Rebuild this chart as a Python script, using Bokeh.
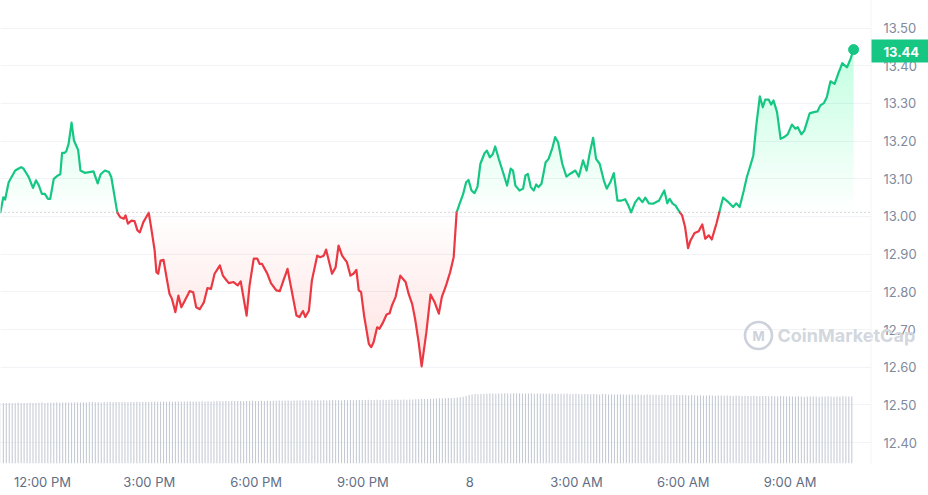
import numpy as np
from bokeh.plotting import figure
from bokeh.models import (Range1d, LinearAxis, FixedTicker, NumeralTickFormatter,
                          Span, Grid)
from bokeh.core.properties import value
from bokeh.embed import file_html
from bokeh.resources import INLINE

# ---------------- data ----------------
START_HOUR = 10 + 49 / 60          # first sample: 10:49 AM (Jan 7)

MINUTES = [0, 5, 8, 14, 25, 35, 39, 48, 55, 60, 65, 70, 75, 80, 84, 90, 97, 101, 104, 108,
           111, 115, 120, 124, 131, 135, 142, 150, 157, 164, 169, 176, 183, 187, 197, 202, 208, 211, 215, 221,
           226, 231, 235, 241, 250, 254, 260, 263, 266, 270, 275, 280, 285, 289, 295, 300, 305, 311, 319, 325,
           330, 336, 343, 349, 355, 361, 370, 375, 385, 393, 400, 405, 415, 420, 427, 433, 437, 441, 450, 456,
           465, 471, 477, 484, 492, 499, 504, 510, 514, 520, 525, 534, 539, 545, 549, 559, 565, 570, 576, 584,
           590, 595, 600, 604, 608, 613, 621, 625, 629, 635, 639, 645, 651, 656, 660, 666, 674, 683, 688, 694,
           699, 705, 710, 718, 725, 732, 739, 744, 752, 758, 764, 769, 774, 780, 785, 789, 794, 799, 804, 809,
           816, 820, 825, 830, 834, 840, 848, 854, 860, 864, 868, 875, 881, 885, 889, 894, 899, 903, 907, 912,
           919, 924, 930, 935, 940, 947, 954, 960, 969, 975, 982, 988, 993, 999, 1004, 1010, 1017, 1022, 1028, 1034,
           1040, 1046, 1053, 1059, 1063, 1070, 1076, 1082, 1087, 1093, 1100, 1110, 1119, 1124, 1128, 1133, 1138, 1143, 1149, 1154,
           1159, 1163, 1170, 1177, 1183, 1188, 1194, 1199, 1207, 1212, 1218, 1227, 1235, 1240, 1246, 1253, 1258, 1264, 1269, 1274,
           1280, 1285, 1289, 1295, 1299, 1303, 1309, 1315, 1321, 1327, 1334, 1340, 1344, 1350, 1355, 1364, 1371, 1377, 1382, 1388,
           1393, 1399, 1406, 1413, 1419, 1427, 1433, 1438]

PRICE = [13.011, 13.051, 13.045, 13.091, 13.122, 13.131, 13.127, 13.104, 13.076, 13.096,
         13.082, 13.060, 13.060, 13.047, 13.047, 13.100, 13.109, 13.112, 13.169, 13.169,
         13.173, 13.193, 13.249, 13.202, 13.177, 13.122, 13.116, 13.118, 13.120, 13.088,
         13.112, 13.122, 13.118, 13.104, 13.011, 12.998, 12.994, 13.003, 12.981, 12.989,
         12.988, 12.963, 12.958, 12.985, 13.010, 12.972, 12.910, 12.852, 12.848, 12.883,
         12.885, 12.839, 12.795, 12.782, 12.746, 12.790, 12.759, 12.777, 12.802, 12.799,
         12.759, 12.754, 12.772, 12.810, 12.808, 12.848, 12.870, 12.843, 12.823, 12.826,
         12.817, 12.828, 12.737, 12.817, 12.888, 12.888, 12.874, 12.874, 12.848, 12.823,
         12.804, 12.802, 12.830, 12.861, 12.795, 12.737, 12.733, 12.749, 12.733, 12.750,
         12.830, 12.896, 12.892, 12.896, 12.912, 12.848, 12.865, 12.923, 12.896, 12.879,
         12.843, 12.848, 12.858, 12.804, 12.799, 12.737, 12.662, 12.653, 12.666, 12.706,
         12.702, 12.719, 12.740, 12.743, 12.764, 12.786, 12.843, 12.826, 12.795, 12.768,
         12.728, 12.666, 12.602, 12.693, 12.793, 12.772, 12.742, 12.786, 12.821, 12.852,
         12.892, 13.011, 13.034, 13.060, 13.091, 13.097, 13.069, 13.062, 13.078, 13.140,
         13.168, 13.175, 13.157, 13.166, 13.186, 13.153, 13.113, 13.082, 13.127, 13.122,
         13.082, 13.069, 13.074, 13.109, 13.113, 13.078, 13.069, 13.085, 13.078, 13.087,
         13.144, 13.153, 13.180, 13.211, 13.197, 13.140, 13.106, 13.113, 13.122, 13.106,
         13.149, 13.122, 13.166, 13.209, 13.153, 13.140, 13.096, 13.074, 13.091, 13.115,
         13.042, 13.042, 13.046, 13.027, 13.011, 13.038, 13.050, 13.038, 13.050, 13.035,
         13.034, 13.042, 13.069, 13.035, 13.047, 13.034, 13.029, 13.016, 13.003, 12.972,
         12.916, 12.936, 12.956, 12.961, 12.979, 12.941, 12.950, 12.939, 12.982, 13.013,
         13.050, 13.038, 13.025, 13.035, 13.025, 13.069, 13.104, 13.135, 13.162, 13.242,
         13.319, 13.290, 13.310, 13.310, 13.297, 13.308, 13.277, 13.206, 13.211, 13.218,
         13.244, 13.233, 13.237, 13.218, 13.228, 13.274, 13.277, 13.279, 13.295, 13.301,
         13.317, 13.359, 13.352, 13.383, 13.407, 13.396, 13.419, 13.443]

VOL_STEP_MIN = 5   # one volume bar every 5 minutes
VOLUME = [
    60.2, 60.5, 60.4, 60.6, 60.3, 60.5, 60.7, 60.4, 60.6, 60.5, 60.8, 60.6, 60.5, 60.7, 60.9, 60.6, 60.8, 60.7, 60.9, 61.0, 60.8, 60.9, 61.1, 60.9,
    61.0, 61.2, 61.0, 61.1, 61.3, 61.1, 61.2, 61.4, 61.2, 61.3, 61.1, 61.4, 61.3, 61.5, 61.3, 61.4, 61.6, 61.4, 61.5, 61.3, 61.6, 61.5, 61.7, 61.5,
    61.6, 61.8, 61.6, 61.7, 61.9, 61.7, 61.8, 62.0, 61.8, 61.9, 61.7, 62.0, 61.9, 62.1, 61.9, 62.0, 62.2, 62.0, 62.1, 61.9, 62.2, 62.1, 62.3, 62.1,
    62.2, 62.4, 62.2, 62.3, 62.5, 62.3, 62.4, 62.6, 62.4, 62.5, 62.3, 62.6, 62.5, 62.7, 62.5, 62.6, 62.8, 62.6, 62.7, 62.5, 62.8, 62.7, 62.9, 62.7,
    62.8, 63.0, 62.8, 62.9, 63.1, 62.9, 63.0, 63.2, 63.0, 63.1, 62.9, 63.2, 63.1, 63.3, 63.1, 63.2, 63.4, 63.2, 63.3, 63.1, 63.4, 63.3, 63.5, 63.3,
    63.4, 63.6, 63.4, 63.5, 63.7, 63.5, 63.6, 63.8, 63.6, 63.7, 63.5, 63.8, 63.7, 63.9, 63.7, 63.8, 64.0, 63.8, 63.9, 64.1, 64.3, 64.2, 64.5, 64.4,
    64.6, 64.8, 64.7, 65.0, 65.2, 65.1, 65.4, 65.6, 65.5, 65.8, 66.0, 66.3, 66.7, 67.5, 68.4, 69.0, 69.4, 69.6, 69.5, 69.8, 69.7, 69.9, 70.0, 69.8,
    70.1, 69.9, 70.2, 70.0, 70.1, 70.3, 70.0, 70.2, 69.9, 70.1, 70.0, 70.2, 69.8, 70.0, 69.9, 70.1, 69.7, 69.9, 69.8, 70.0, 69.6, 69.8, 69.7, 69.9,
    69.6, 69.4, 69.7, 69.5, 69.3, 69.6, 69.4, 69.2, 69.5, 69.3, 69.1, 69.4, 69.2, 69.0, 69.3, 69.1, 68.9, 69.2, 69.0, 68.8, 69.1, 68.9, 68.7, 69.0,
    68.8, 68.6, 68.9, 68.7, 68.5, 68.8, 68.6, 68.4, 68.7, 68.5, 68.3, 68.6, 68.4, 68.2, 68.5, 68.3, 68.1, 68.4, 68.2, 68.0, 68.3, 68.1, 67.9, 68.2,
    68.0, 67.8, 68.1, 67.9, 67.7, 68.0, 67.8, 67.6, 67.9, 67.7, 67.5, 67.8, 67.6, 67.4, 67.7, 67.5, 67.3, 67.6, 67.4, 67.2, 67.5, 67.3, 67.1, 67.4,
    67.2, 67.0, 67.3, 67.1, 66.9, 67.2, 67.0, 66.8, 67.1, 66.9, 67.1, 67.0, 66.8, 67.1, 66.9, 67.2, 67.0, 66.8, 67.1, 66.9, 67.2, 67.0, 66.9, 67.1,
]

X_TICKS = [12, 15, 18, 21, 24, 27, 30, 33]
X_LABELS = ["12:00 PM", "3:00 PM", "6:00 PM", "9:00 PM", "8", "3:00 AM", "6:00 AM", "9:00 AM"]
Y_TICKS = [12.40, 12.50, 12.60, 12.70, 12.80, 12.90, 13.00, 13.10, 13.20, 13.30, 13.40, 13.50]
WATERMARK = "CoinMarketCap"

if len(MINUTES) != len(PRICE):
    raise SystemExit("length mismatch %d %d" % (len(MINUTES), len(PRICE)))

GREEN = "#16c784"
RED = "#ea3943"
FONT = "Inter"

# ---------------- figure ----------------
X0, X1 = 10.8202, 35.2865          # visible time window (hours since Jan 7 00:00)
XC = 36.887                        # right edge of the canvas, in the same units
p = figure(width=928, height=495, output_backend="svg", toolbar_location=None,
           x_range=Range1d(X0, X1), y_range=Range1d(12.3443, 13.5734),
           x_axis_location=None, y_axis_location=None,
           min_border_left=0, min_border_right=57, min_border_top=0, min_border_bottom=32)
p.outline_line_color = None
p.background_fill_color = "white"
p.border_fill_color = "white"
for g in p.grid:
    g.visible = False
p.extra_y_ranges = {"vol": Range1d(0, 463)}

xs = np.array([START_HOUR + m / 60 for m in MINUTES])
ys = np.array(PRICE)
base = PRICE[0]

# grid
p.add_layout(Grid(dimension=1, ticker=FixedTicker(ticks=Y_TICKS),
                  grid_line_color="#f1f3f6", grid_line_width=1))

# volume bars
vx = [START_HOUR + i * VOL_STEP_MIN / 60 for i in range(len(VOLUME))]
p.vbar(x=vx, top=VOLUME, bottom=0, width=VOL_STEP_MIN / 60 * 0.36,
       y_range_name="vol", fill_color="#c4cad3", line_color=None)

# augmented series (exact crossings of the piecewise line with band levels)
NB = 30
lev_g = np.linspace(base, 13.45, NB + 1)
lev_r = np.linspace(base, 12.60, NB + 1)
levels = sorted(set(lev_g.tolist()) | set(lev_r.tolist()))
xa, ya = [xs[0]], [ys[0]]
for i in range(len(xs) - 1):
    x0, y0, x1, y1 = xs[i], ys[i], xs[i + 1], ys[i + 1]
    cr = []
    for L in levels:
        if (y0 - L) * (y1 - L) < 0:
            t = (L - y0) / (y1 - y0)
            cr.append((t, L))
    cr.sort()
    for t, L in cr:
        xa.append(x0 + t * (x1 - x0))
        ya.append(L)
    xa.append(x1)
    ya.append(y1)
xa = np.array(xa)
ya = np.array(ya)

# gradient fills (stacked translucent layers)
ag = 1 - (1 - 0.24) ** (1 / NB)
ar = 1 - (1 - 0.16) ** (1 / NB)
for j in range(NB):
    L = lev_g[j]
    p.varea(x=xa, y1=np.full(len(xa), L), y2=np.maximum(ya, L),
            fill_color=GREEN, fill_alpha=ag)
    L = lev_r[j]
    p.varea(x=xa, y1=np.minimum(ya, L), y2=np.full(len(xa), L),
            fill_color=RED, fill_alpha=ar)

# baseline (open price)
p.add_layout(Span(location=base, dimension="width", line_color="#a9b0bb",
                  line_dash="1 3", line_width=1))
p.add_layout(Span(location=X1 - 0.01, dimension="height", line_color="#eef0f3", line_width=1))

# split line into green / red runs
runs = {"g": ([], []), "r": ([], [])}
cur, cx, cy = None, [], []
for i in range(len(xa) - 1):
    mid = (ya[i] + ya[i + 1]) / 2
    k = "g" if mid >= base else "r"
    if k != cur:
        if cur is not None:
            runs[cur][0].append(cx)
            runs[cur][1].append(cy)
        cur, cx, cy = k, [xa[i]], [ya[i]]
    cx.append(xa[i + 1])
    cy.append(ya[i + 1])
runs[cur][0].append(cx)
runs[cur][1].append(cy)
p.multi_line(xs=runs["g"][0], ys=runs["g"][1], line_color=GREEN, line_width=2.2,
             line_join="round", line_cap="round")
p.multi_line(xs=runs["r"][0], ys=runs["r"][1], line_color=RED, line_width=2.2,
             line_join="round", line_cap="round")

# last point marker
p.scatter(x=[xs[-1]], y=[ys[-1]], size=10, color=GREEN)

# watermark
p.scatter(x=[32.112], y=[12.684], size=27, marker="circle", fill_color=None,
          line_color="#cdd2da", line_width=2.6)
p.text(x=[32.112], y=[12.684], text=["M"], text_font=value(FONT), text_font_size="13px",
       text_font_style="bold", text_color="#cdd2da", text_align="center",
       text_baseline="middle", level="annotation")
p.text(x=[32.6461], y=[12.684], text=[WATERMARK], text_font=value(FONT),
       text_font_size="18px", text_font_style="bold", text_color="#d3d7de",
       text_baseline="middle", level="annotation")

# axes
xaxis = LinearAxis(ticker=FixedTicker(ticks=X_TICKS),
                   major_label_overrides={t: l for t, l in zip(X_TICKS, X_LABELS)},
                   axis_line_color=None, major_tick_line_color=None, minor_tick_line_color=None,
                   major_tick_in=0, major_tick_out=0, major_label_standoff=10,
                   major_label_text_font=FONT, major_label_text_font_size="13px",
                   major_label_text_color="#616e85")
p.add_layout(xaxis, "below")
yaxis = LinearAxis(ticker=FixedTicker(ticks=Y_TICKS), formatter=NumeralTickFormatter(format="0.00"),
                   axis_line_color=None, major_tick_line_color=None, minor_tick_line_color=None,
                   major_tick_in=0, major_tick_out=0, major_label_standoff=12,
                   major_label_text_font=FONT, major_label_text_font_size="13px",
                   major_label_text_color="#808a9d")
p.add_layout(yaxis, "right")

# last price tag (drawn on the overlay level so it can sit over the price axis)
p.quad(left=[X1], right=[XC], bottom=[ys[-1] - 0.034], top=[ys[-1] + 0.027],
       fill_color=GREEN, line_color=None, level="overlay")
p.text(x=[35.6236], y=[ys[-1] - 0.005], text=["%.2f" % ys[-1]], text_font=value(FONT),
       text_font_size="13px", text_font_style="bold", text_color="white",
       text_baseline="middle", level="overlay")

open("out.html", "w").write(file_html(p, INLINE))
